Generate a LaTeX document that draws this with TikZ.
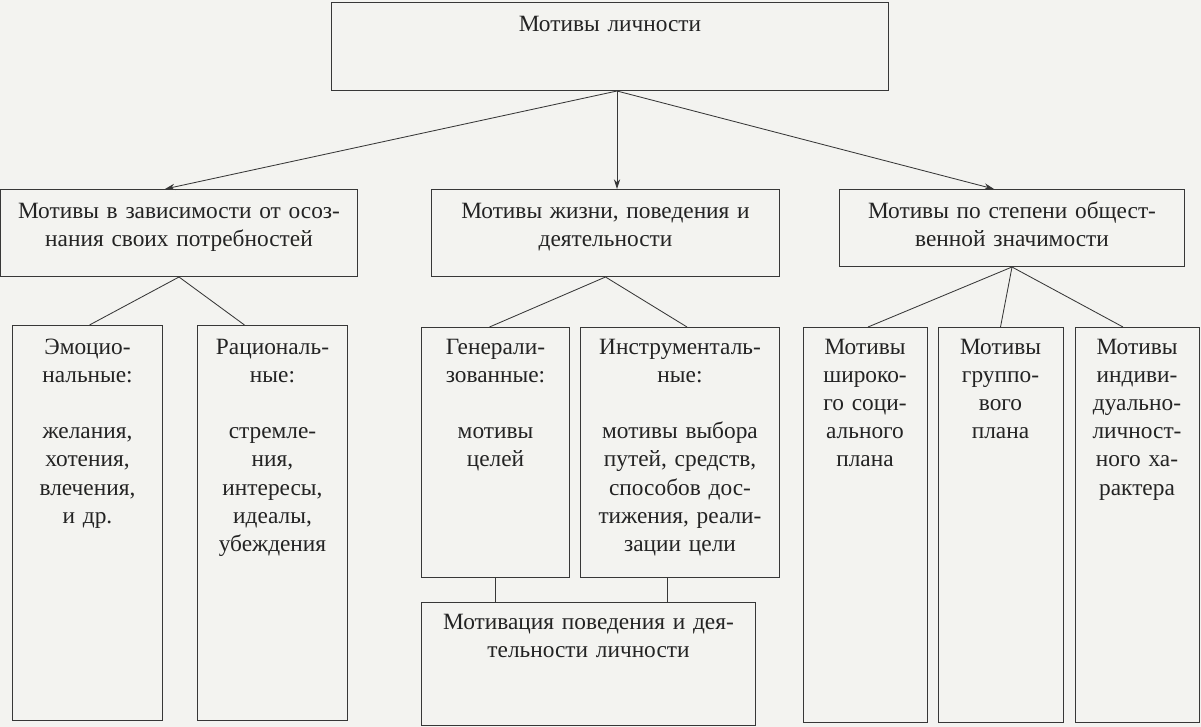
\documentclass[tikz,border=0pt]{standalone}
\usepackage{fontspec}
\setmainfont{Liberation Serif}
\usetikzlibrary{arrows.meta}
\definecolor{inkgray}{RGB}{55,55,55}
\definecolor{textgray}{RGB}{35,35,35}
\definecolor{paper}{RGB}{243,243,240}

\begin{document}
\begin{tikzpicture}[x=0.025cm, y=-0.025cm,
  box/.style={draw=inkgray, line width=0.7pt, rectangle, anchor=north, inner sep=0pt, align=center, text=textgray, font=\fontsize{16.6}{20}\selectfont},
  link/.style={draw=inkgray, line width=0.6pt},
  >={Stealth[length=7pt,width=4.5pt]}]
  \fill[paper] (0,0) rectangle (1201,727);
  \useasboundingbox (0,0) rectangle (1201,727);

  % top level
  \node[box, text width=13.9cm, text height=0.725cm, text depth=1.475cm] (top) at (610,2) {Мотивы личности};

  % second level
  \node[box, text width=8.9cm, text height=0.725cm, text depth=1.45cm] (aware) at (179,189) {Мотивы в зависимости от осоз-\\нания своих потребностей};
  \node[box, text width=8.675cm, text height=0.725cm, text depth=1.45cm] (life) at (605.5,189) {Мотивы жизни, поведения и\\деятельности};
  \node[box, text width=8.625cm, text height=0.725cm, text depth=1.2cm] (social) at (1012,189) {Мотивы по степени общест-\\венной значимости};

  % third level
  \node[box, text width=3.725cm, text height=0.725cm, text depth=9.15cm] (emo) at (87.5,325) {Эмоцио-\\нальные:\\[20pt]желания,\\хотения,\\влечения,\\и др.};
  \node[box, text width=3.725cm, text height=0.725cm, text depth=9.15cm] (rat) at (272.5,325) {Рациональ-\\ные:\\[20pt]стремле-\\ния,\\интересы,\\идеалы,\\убеждения};
  \node[box, text width=3.675cm, text height=0.675cm, text depth=5.575cm] (gen) at (495.5,327) {Генерали-\\зованные:\\[20pt]мотивы\\целей};
  \node[box, text width=4.95cm, text height=0.675cm, text depth=5.575cm] (instr) at (680,327) {Инструменталь-\\ные:\\[20pt]мотивы выбора\\путей, средств,\\способов дос-\\тижения, реали-\\зации цели};
  \node[box, text width=8.325cm, text height=0.675cm, text depth=2.4cm] (motiv) at (588.5,602) {Мотивация поведения и дея-\\тельности личности};
  \node[box, text width=3.1cm, text height=0.675cm, text depth=9.2cm] (wide) at (865,327) {Мотивы\\широко-\\го соци-\\ального\\плана};
  \node[box, text width=3.125cm, text height=0.675cm, text depth=9.2cm] (group) at (1000.5,327) {Мотивы\\группо-\\вого\\плана};
  \node[box, text width=3.1cm, text height=0.675cm, text depth=9.2cm] (indiv) at (1137,327) {Мотивы\\индиви-\\дуально-\\личност-\\ного ха-\\рактера};

  % connectors
  \coordinate (hub) at ([xshift=0.175cm]top.south);
  \coordinate (instr-foot) at ([xshift=-0.325cm]instr.south);
  \draw[link, ->] (hub) -- ([xshift=-0.35cm]aware.north);
  \draw[link, ->] (hub) -- (hub |- life.north);
  \draw[link, ->] (hub) -- ([xshift=-0.45cm]social.north);

  \draw[link] (aware.south) -- ([xshift=0.05cm]emo.north);
  \draw[link] (aware.south) -- ([xshift=-0.7cm]rat.north);
  \draw[link] (life.south) -- ([xshift=-0.15cm]gen.north);
  \draw[link] (life.south) -- ([xshift=0.175cm]instr.north);
  \draw[link] (gen.south) -- (gen.south |- motiv.north);
  \draw[link] (instr-foot) -- (instr-foot |- motiv.north);
  \draw[link] (social.south) -- ([xshift=0.075cm]wide.north);
  \draw[link] (social.south) -- (group.north);
  \draw[link] (social.south) -- ([xshift=-0.35cm]indiv.north);
\end{tikzpicture}
\end{document}
